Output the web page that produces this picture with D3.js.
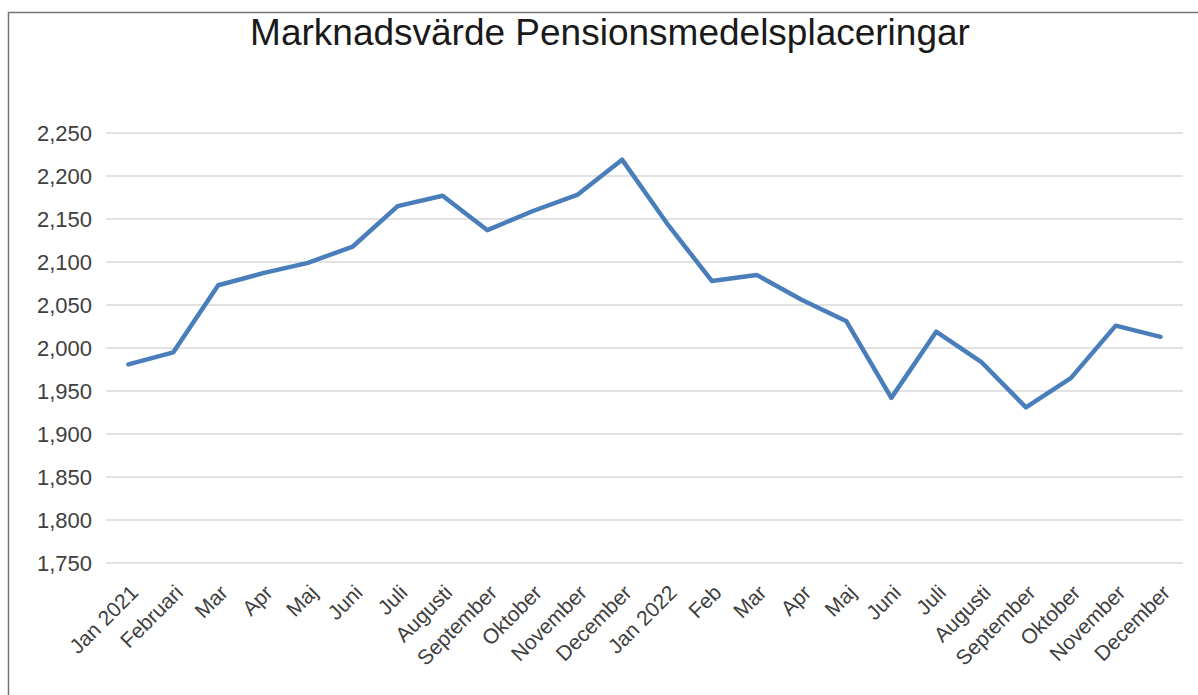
<!DOCTYPE html>
<html><head><meta charset="utf-8">
<script src="https://cdn.jsdelivr.net/npm/d3@7"></script>
<style>body{margin:0;background:#fff;}svg{display:block;}</style>
</head><body>
<svg id="chart" width="1198" height="695"></svg>
<script>
const title = "Marknadsvärde Pensionsmedelsplaceringar";
const categories = ["Jan 2021","Februari","Mar","Apr","Maj","Juni","Juli","Augusti","September","Oktober","November","December",
  "Jan 2022","Feb","Mar ","Apr ","Maj ","Juni ","Juli ","Augusti ","September ","Oktober ","November ","December "];
const values = [1981,1995,2073,2087,2099,2118,2165,2177,2137,2159,2178,2219,
  2145,2078,2085,2056,2031,1942,2019,1984,1931,1965,2026,2013];
const yTicks = [1750,1800,1850,1900,1950,2000,2050,2100,2150,2200,2250];

const svg = d3.select("#chart");
const m = {left:106, right:1183, top:133, bottom:563};

svg.append("rect").attr("x",8.5).attr("y",12.5).attr("width",1250).attr("height",800)
  .attr("fill","#fff").attr("stroke","#767676").attr("stroke-width",1.5);

const x = d3.scaleBand().domain(categories).range([m.left,m.right]);
const y = d3.scaleLinear().domain([1750,2250]).range([m.bottom,m.top]);

const font = "Liberation Sans, Arial, sans-serif";

// grid
svg.append("g").selectAll("line").data(yTicks).join("line")
  .attr("x1",m.left).attr("x2",m.right)
  .attr("y1",d=>y(d)).attr("y2",d=>y(d))
  .attr("stroke","#d9d9d9").attr("stroke-width",1.5);

// y axis labels
const yAxis = svg.append("g").attr("transform",`translate(${m.left},0)`)
  .call(d3.axisLeft(y).tickValues(yTicks).tickSize(0).tickPadding(14).tickFormat(d3.format(",")));
yAxis.select(".domain").remove();
yAxis.selectAll("text").attr("font-family",font).attr("font-size",22).attr("fill","#404040");

// x axis labels
const xAxis = svg.append("g").attr("transform",`translate(0,${m.bottom})`)
  .call(d3.axisBottom(x).tickSize(0).tickPadding(0).tickFormat(d=>d.trim()));
xAxis.select(".domain").remove();
xAxis.selectAll("text").attr("font-family",font).attr("font-size",21).attr("fill","#404040")
  .attr("text-anchor","end").attr("dy",0)
  .attr("transform","translate(11,31) rotate(-45)");

// line
const line = d3.line().x((d,i)=>x(categories[i])+x.bandwidth()/2).y(d=>y(d));
svg.append("path").datum(values).attr("d",line)
  .attr("fill","none").attr("stroke","#4a7ebb").attr("stroke-width",4.5)
  .attr("stroke-linejoin","round").attr("stroke-linecap","round");

svg.append("text").attr("x",610).attr("y",45).attr("text-anchor","middle")
  .attr("font-family",font).attr("font-size",37).attr("fill","#1a1a1a").text(title);
</script>
</body></html>
